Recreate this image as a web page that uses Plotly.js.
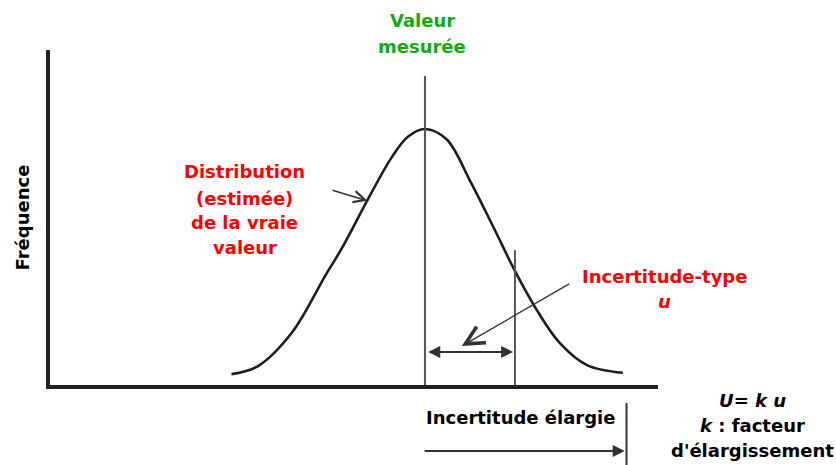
<!DOCTYPE html>
<html>
<head>
<meta charset="utf-8">
<script src="https://cdn.plot.ly/plotly-3.0.1.min.js"></script>
<style>html,body{margin:0;padding:0;background:#fff;}#chart{width:836px;height:465px;}</style>
</head>
<body>
<div id="chart"></div>
<script>
const curveX = [-2.15, -1.86, -1.48, -1.11, -0.92, -0.63, -0.37, -0.19, 0, 0.24, 0.5, 0.76, 1.0, 1.24, 1.5, 1.8, 2.2];
const curveY = [0.05, 0.08, 0.21, 0.43, 0.54, 0.73, 0.89, 0.97, 1.0, 0.96, 0.80, 0.62, 0.45, 0.30, 0.17, 0.085, 0.055];
const measuredValue = 0;          // "Valeur mesurée"
const stdUncertainty = 1;         // u
const expandedUncertainty = 2.24; // U = k u (as drawn)
const measuredLineTop = 1.205;
const uLineTop = 0.53;

// Text labels
const measuredLabel = ['Valeur', 'mesurée'];
const distributionLabel = ['Distribution', '(estimée)', 'de la vraie', 'valeur'];
const stdLabel = ['Incertitude-type', '<i>u</i>'];
const expandedLabel = 'Incertitude élargie';
const formulaLabel = ['<i>U</i>= <i>k u</i>', '<i>k</i> : facteur', 'd\'élargissement'];
const yTitle = 'Fréquence';

const FONT = 'DejaVu Sans';
const RED = '#ff0000';
const GREEN = '#12aa12';
const FS = 18;

function lines(arr, x, ys, color) {
  return arr.map((t, i) => ({
    text: '<b>' + t + '</b>', xref: 'paper', yref: 'paper', x: x, y: ys[i], showarrow: false,
    font: {family: FONT, size: FS, color: color}, xanchor: 'center', yanchor: 'middle'
  }));
}

const traces = [{
  x: curveX, y: curveY, type: 'scatter', mode: 'lines',
  line: {color: '#1e1e1e', width: 2.6, shape: 'spline', smoothing: 1.0},
  hoverinfo: 'skip', showlegend: false
}];

const layout = {
  width: 836, height: 465,
  margin: {l: 50, r: 178, t: 50, b: 80},
  paper_bgcolor: '#ffffff', plot_bgcolor: '#ffffff',
  showlegend: false,
  font: {family: FONT, size: FS, color: '#000'},
  xaxis: {range: [-4.167, 2.59], showgrid: false, zeroline: false, showticklabels: false, ticks: '',
          showline: true, linecolor: '#222', linewidth: 4, fixedrange: true},
  yaxis: {range: [0.0078, 1.306], showgrid: false, zeroline: false, showticklabels: false, ticks: '',
          showline: true, linecolor: '#222', linewidth: 4, fixedrange: true,
          title: {text: '<b>' + yTitle + '</b>', font: {family: FONT, size: FS, color: '#000'}, standoff: 13}},
  shapes: [
    {type: 'line', xref: 'x', yref: 'y', x0: measuredValue, x1: measuredValue, y0: 0, y1: measuredLineTop,
     line: {color: '#555', width: 2}},
    {type: 'line', xref: 'x', yref: 'y', x0: stdUncertainty, x1: stdUncertainty, y0: 0, y1: uLineTop,
     line: {color: '#555', width: 2}},
    {type: 'line', xref: 'x', yref: 'paper', x0: expandedUncertainty, x1: expandedUncertainty, y0: -0.0537, y1: -0.245,
     line: {color: '#333', width: 2}}
  ],
  annotations: [].concat(
    lines(measuredLabel, 0.612, [1.088, 1.010], GREEN),
    lines(distributionLabel, 0.3207, [0.636, 0.558, 0.4836, 0.409], RED),
    lines(stdLabel, 1.0099, [0.324, 0.2507], RED),
    lines([expandedLabel], 0.7738, [-0.097], '#000'),
    lines(formulaLabel, 1.156, [-0.0463, -0.121, -0.1955], '#000'),
    [
      // arrow from distribution label to curve
      {text: '', xref: 'x', yref: 'y', axref: 'x', ayref: 'y', x: -0.64, y: 0.722, ax: -1.044, ay: 0.764,
       showarrow: true, arrowhead: 5, arrowsize: 1.5, arrowwidth: 1.5, arrowcolor: '#333'},
      // arrow from u label to the double arrow
      {text: '', xref: 'x', yref: 'y', axref: 'x', ayref: 'y', x: 0.41, y: 0.159, ax: 1.62, ay: 0.403,
       showarrow: true, arrowhead: 5, arrowsize: 2.8, arrowwidth: 1.3, arrowcolor: '#333'},
      // double arrow between measured value and u
      {text: '', xref: 'x', yref: 'y', axref: 'x', ayref: 'y', x: stdUncertainty - 0.02, y: 0.136, ax: measuredValue + 0.02, ay: 0.136,
       showarrow: true, arrowhead: 2, startarrowhead: 2, arrowside: 'end+start', arrowsize: 1.2, startarrowsize: 1.2,
       arrowwidth: 2, arrowcolor: '#333'},
      // expanded uncertainty arrow
      {text: '', xref: 'x', yref: 'paper', axref: 'x', ayref: 'paper', x: expandedUncertainty - 0.02, y: -0.197, ax: measuredValue - 0.02, ay: -0.197,
       showarrow: true, arrowhead: 2, arrowsize: 1.2, arrowwidth: 2, arrowcolor: '#333'}
    ]
  )
};

Plotly.newPlot('chart', traces, layout, {displayModeBar: false, staticPlot: true});
</script>
</body>
</html>
